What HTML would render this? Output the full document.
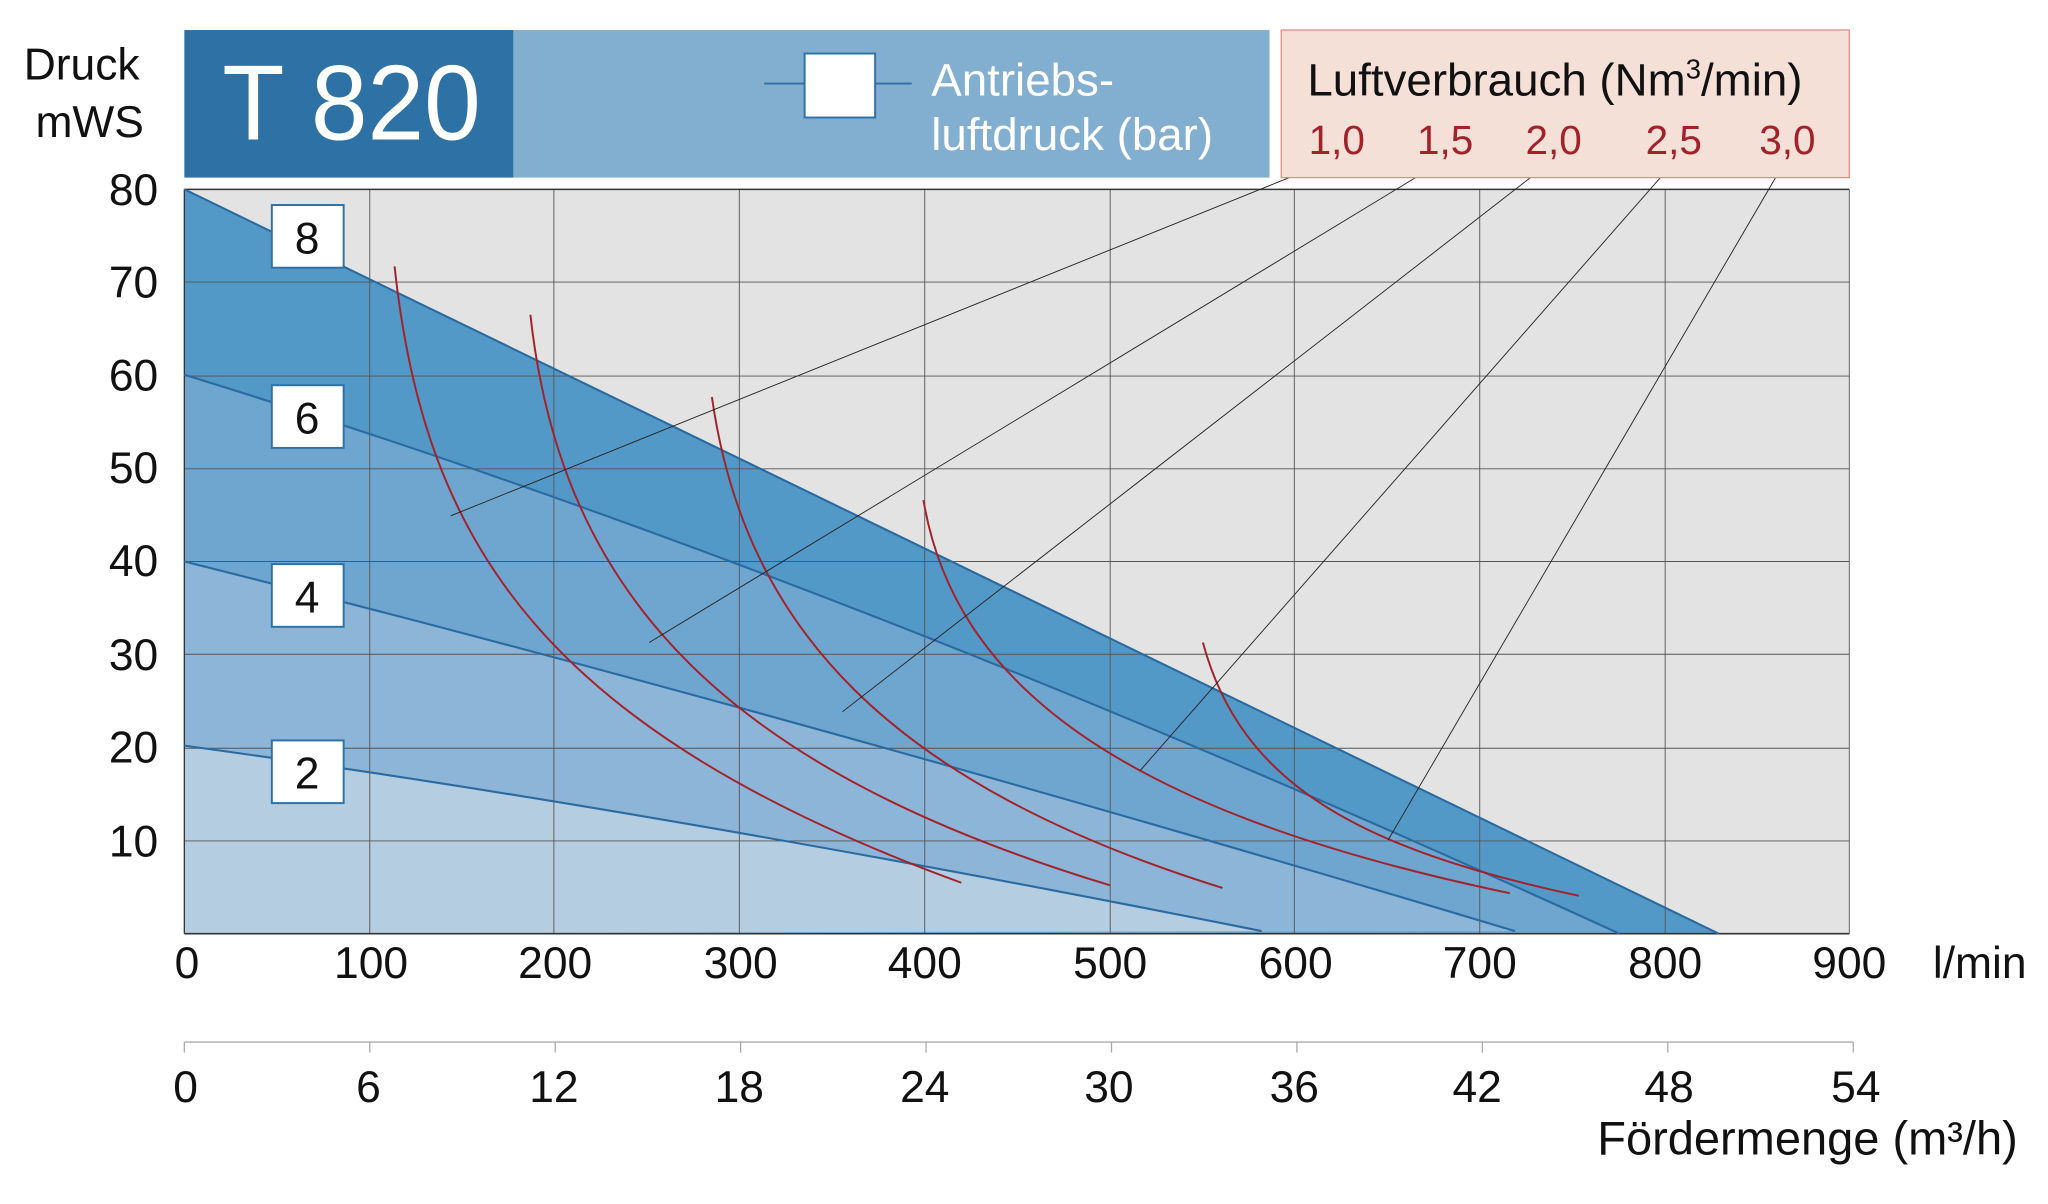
<!DOCTYPE html>
<html><head><meta charset="utf-8"><style>html,body{margin:0;padding:0;background:#fff}svg{display:block}</style></head><body>
<svg width="2048" height="1204" viewBox="0 0 1568 922" xmlns="http://www.w3.org/2000/svg" font-family="Liberation Sans, sans-serif">
<rect width="1568" height="922" fill="#fff"/>
<rect x="141" y="145" width="1275" height="570" fill="#e3e3e3"/>
<path d="M141,145 L1316,715 L141,715Z" fill="#5399c8"/>
<path d="M141,287 Q640,440 1240,715 L141,715Z" fill="#6fa6d0"/>
<path d="M141,430 Q600,545 1160,713 L141,715Z" fill="#8cb5d8"/>
<path d="M141,571 Q500,620 966,713 L141,715Z" fill="#b5cde0"/>
<g stroke="#555" stroke-width="0.7">
<line x1="283" y1="145" x2="283" y2="715"/><line x1="424" y1="145" x2="424" y2="715"/><line x1="566" y1="145" x2="566" y2="715"/><line x1="708" y1="145" x2="708" y2="715"/><line x1="850" y1="145" x2="850" y2="715"/><line x1="991" y1="145" x2="991" y2="715"/><line x1="1133" y1="145" x2="1133" y2="715"/><line x1="1275" y1="145" x2="1275" y2="715"/><line x1="1416" y1="145" x2="1416" y2="715"/>
<line x1="141" y1="216" x2="1416" y2="216"/><line x1="141" y1="288" x2="1416" y2="288"/><line x1="141" y1="359" x2="1416" y2="359"/><line x1="141" y1="430" x2="1416" y2="430"/><line x1="141" y1="501" x2="1416" y2="501"/><line x1="141" y1="573" x2="1416" y2="573"/><line x1="141" y1="644" x2="1416" y2="644"/>
</g>
<line x1="141" y1="145" x2="1416" y2="145" stroke="#333" stroke-width="1.2"/>
<line x1="141" y1="145" x2="141" y2="715" stroke="#333" stroke-width="1"/>
<line x1="141" y1="715" x2="1416" y2="715" stroke="#333" stroke-width="1.2"/>
<g stroke="#2a6aa0" stroke-width="1.6" fill="none">
<path d="M141,145 L1316,715"/>
<path d="M141,287 Q640,440 1240,715"/>
<path d="M141,430 Q600,545 1160,713"/>
<path d="M141,571 Q500,620 966,713"/>
</g>
<g stroke="#a3222a" stroke-width="1.5" fill="none">
<path d="M302,204 C325,420 420,560 736,676"/>
<path d="M406,241 C430,460 560,590 850,678"/>
<path d="M545,304 C570,480 680,600 936,680"/>
<path d="M707,383 C730,520 850,620 1156,684"/>
<path d="M921,492 C950,600 1040,650 1209,686"/>
</g>
<g stroke="#222" stroke-width="0.7">
<line x1="1017" y1="124" x2="345" y2="395"/>
<line x1="1102" y1="125" x2="497" y2="492"/>
<line x1="1186" y1="125" x2="645" y2="545"/>
<line x1="1281" y1="125" x2="873" y2="590"/>
<line x1="1366" y1="125" x2="1063" y2="643"/>
</g>
<g fill="#fff" stroke="#2e72a5" stroke-width="1.5">
<rect x="208" y="157" width="55" height="48"/><rect x="208" y="295" width="55" height="48"/><rect x="208" y="432" width="55" height="48"/><rect x="208" y="567" width="55" height="48"/>
</g>
<g font-size="34" text-anchor="middle" fill="#111">
<text x="235" y="194">8</text><text x="235" y="332">6</text><text x="235" y="469">4</text><text x="235" y="604">2</text>
</g>
<rect x="141" y="23" width="252" height="113" fill="#2e72a5"/>
<rect x="393" y="23" width="579" height="113" fill="#82afd0"/>
<rect x="981" y="23" width="435" height="113" fill="#f5e0d8" stroke="#d9908a" stroke-width="1"/>
<text x="170" y="107" font-size="82" fill="#fff" textLength="198" lengthAdjust="spacingAndGlyphs">T 820</text>
<line x1="585" y1="64" x2="698" y2="64" stroke="#2e72a5" stroke-width="1.5"/>
<rect x="616" y="41" width="54" height="49" fill="#fff" stroke="#2e72a5" stroke-width="1.5"/>
<text x="713" y="73" font-size="35" fill="#fff">Antriebs-</text>
<text x="713" y="115" font-size="35" fill="#fff">luftdruck (bar)</text>
<text x="1001" y="73" font-size="35" fill="#111">Luftverbrauch (Nm<tspan font-size="21" dy="-13">3</tspan><tspan dy="13">/min)</tspan></text>
<g font-size="31" fill="#a3222a">
<text x="1002" y="118">1,0</text><text x="1085" y="118">1,5</text><text x="1168" y="118">2,0</text><text x="1260" y="118">2,5</text><text x="1347" y="118">3,0</text>
</g>
<text x="18" y="61" font-size="34" fill="#111">Druck</text>
<text x="27" y="105" font-size="34" fill="#111">mWS</text>
<g font-size="34" fill="#111" text-anchor="end">
<text x="121" y="157">80</text><text x="121" y="228">70</text><text x="121" y="299">60</text><text x="121" y="370">50</text><text x="121" y="441">40</text><text x="121" y="513">30</text><text x="121" y="584">20</text><text x="121" y="656">10</text>
</g>
<g font-size="34" fill="#111" text-anchor="middle">
<text x="143" y="749">0</text><text x="284" y="749">100</text><text x="425" y="749">200</text><text x="567" y="749">300</text><text x="708" y="749">400</text><text x="850" y="749">500</text><text x="992" y="749">600</text><text x="1133" y="749">700</text><text x="1275" y="749">800</text><text x="1416" y="749">900</text>
</g>
<text x="1480" y="749" font-size="34" fill="#111">l/min</text>
<line x1="141" y1="798" x2="1419" y2="798" stroke="#aaa" stroke-width="1"/>
<g stroke="#aaa" stroke-width="1">
<line x1="141" y1="798" x2="141" y2="806"/><line x1="283" y1="798" x2="283" y2="806"/><line x1="425" y1="798" x2="425" y2="806"/><line x1="567" y1="798" x2="567" y2="806"/><line x1="709" y1="798" x2="709" y2="806"/><line x1="851" y1="798" x2="851" y2="806"/><line x1="993" y1="798" x2="993" y2="806"/><line x1="1135" y1="798" x2="1135" y2="806"/><line x1="1277" y1="798" x2="1277" y2="806"/><line x1="1419" y1="798" x2="1419" y2="806"/>
</g>
<g font-size="34" fill="#111" text-anchor="middle">
<text x="142" y="844">0</text><text x="282" y="844">6</text><text x="424" y="844">12</text><text x="566" y="844">18</text><text x="708" y="844">24</text><text x="849" y="844">30</text><text x="991" y="844">36</text><text x="1131" y="844">42</text><text x="1278" y="844">48</text><text x="1421" y="844">54</text>
</g>
<text x="1545" y="884" font-size="36" fill="#111" text-anchor="end">Fördermenge (m³/h)</text>
</svg>
</body></html>
